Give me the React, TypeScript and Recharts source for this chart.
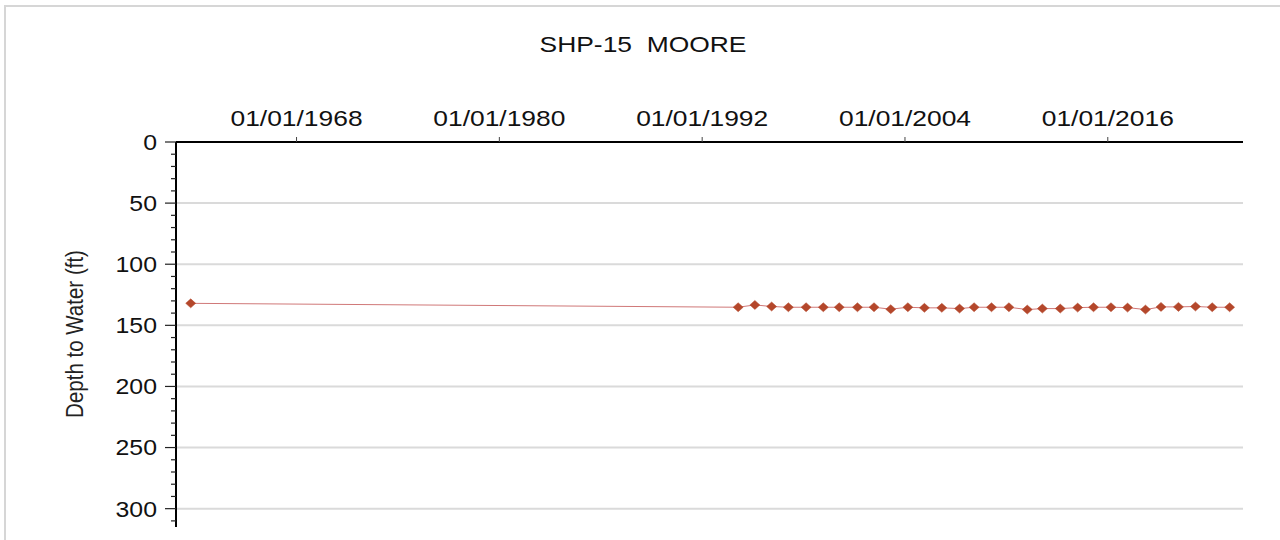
import React from 'react';
import { LineChart, Line, XAxis, YAxis, ReferenceLine } from 'recharts';

const measureDates: string[] = [
  '1961-09-27',
  '1994-02-17', '1995-02-13', '1996-02-10', '1997-02-06', '1998-02-24',
  '1999-03-03', '2000-02-10', '2001-03-10', '2002-03-03', '2003-02-27',
  '2004-03-03', '2005-02-24', '2006-03-07', '2007-03-25', '2008-02-03',
  '2009-02-13', '2010-02-24', '2011-03-28', '2012-02-17', '2013-03-10',
  '2014-03-21', '2015-02-27', '2016-03-10', '2017-03-03', '2018-03-25',
  '2019-02-24', '2020-03-07', '2021-03-10', '2022-03-07', '2023-03-18',
];

const depthToWater: number[] = [
  132.0,
  135.2, 133.3, 134.6, 135.2, 135.2,
  135.2, 135.2, 135.2, 135.2, 136.8,
  135.2, 135.7, 135.7, 136.3, 135.2,
  135.2, 135.2, 137.1, 136.3, 136.3,
  135.5, 135.2, 135.2, 135.5, 137.1,
  134.9, 134.9, 134.6, 135.2, 135.2,
];

const xTickYears: number[] = [1968, 1980, 1992, 2004, 2016];
const yTickValues: number[] = [0, 10, 20, 30, 40, 50, 60, 70, 80, 90, 100, 110, 120, 130, 140, 150, 160, 170, 180, 190, 200, 210, 220, 230, 240, 250, 260, 270, 280, 290, 300, 310];
const gridValues: number[] = [50, 100, 150, 200, 250, 300];
const xDomainStart = '1960-11-13';
const xDomainEnd = '2024-01-01';
const yDomain: [number, number] = [0, 315];

const title = 'SHP-15\u00a0\u00a0MOORE';
const yLabel = 'Depth to Water (ft)';

const toTs = (s: string) => {
  const [y, m, d] = s.split('-').map(Number);
  return Date.UTC(y, m - 1, d);
};

const data = measureDates.map((d, i) => ({ t: toTs(d), depth: depthToWater[i] }));
const xTicks = xTickYears.map((y) => Date.UTC(y, 0, 1));

const FONT = '"Liberation Sans", Arial, Helvetica, sans-serif';

const fmtDate = (ts: number) => {
  const d = new Date(ts);
  const mm = String(d.getUTCMonth() + 1).padStart(2, '0');
  const dd = String(d.getUTCDate()).padStart(2, '0');
  return `${mm}/${dd}/${d.getUTCFullYear()}`;
};

const XTick = (props: any) => {
  const { x, y, payload } = props;
  return (
    <g transform={`translate(${x},${y}) scale(1.2,1)`}>
      <text x={0} y={0} textAnchor="middle" fontFamily={FONT} fontSize={22} fill="#111">
        {fmtDate(payload.value)}
      </text>
    </g>
  );
};

const YTick = (props: any) => {
  const { x, y, payload } = props;
  const v = payload.value as number;
  const major = v % 50 === 0;
  return (
    <g>
      <line x1={x - (major ? 11 : 5)} x2={x} y1={y} y2={y} stroke="#222" strokeWidth={1.2} />
      {major && (
        <g transform={`translate(${x - 19},${y}) scale(1.13,1)`}>
          <text x={0} y={0} dy="0.36em" textAnchor="end" fontFamily={FONT} fontSize={22} fill="#111">
            {v}
          </text>
        </g>
      )}
    </g>
  );
};

const Diamond = (props: any) => {
  const { cx, cy } = props;
  if (cx == null || cy == null) return null;
  const rx = 5;
  const ry = 4.5;
  return (
    <polygon
      points={`${cx},${cy - ry} ${cx + rx},${cy} ${cx},${cy + ry} ${cx - rx},${cy}`}
      fill="#b4472b"
      stroke="#b4472b"
      strokeWidth={0.5}
    />
  );
};

export default function App() {
  return (
    <div style={{ position: 'absolute', left: 0, top: 0, width: 1280, height: 540, background: '#fff', overflow: 'hidden' }}>
      <div style={{ position: 'absolute', left: 4, top: 5, width: 1276, height: 2, background: '#d6d6d6' }} />
      <div style={{ position: 'absolute', left: 4, top: 5, width: 2, height: 535, background: '#d6d6d6' }} />
      <div
        style={{
          position: 'absolute',
          left: 0,
          width: 1286,
          top: 32,
          textAlign: 'center',
          fontFamily: FONT,
          fontSize: 22,
          color: '#111',
          whiteSpace: 'pre',
          transform: 'scaleX(1.2)',
          transformOrigin: '643px 0',
        }}
      >
        {title}
      </div>
      <div
        style={{
          position: 'absolute',
          left: 75,
          top: 334,
          transform: 'translate(-50%, -50%) rotate(-90deg) scaleY(1.15)',
          fontFamily: FONT,
          fontSize: 20.5,
          color: '#222',
          whiteSpace: 'nowrap',
        }}
      >
        {yLabel}
      </div>
      <div style={{ position: 'absolute', left: 0, top: 0 }}>
        <LineChart width={1280} height={540} data={data} margin={{ top: 102, right: 37, bottom: 13, left: 0 }}>
          <XAxis
            dataKey="t"
            type="number"
            scale="time"
            orientation="top"
            height={40}
            domain={[toTs(xDomainStart), toTs(xDomainEnd)]}
            ticks={xTicks}
            tick={<XTick />}
            tickSize={5}
            tickMargin={11}
            tickLine={{ stroke: '#444', strokeWidth: 1 }}
            axisLine={{ stroke: '#000', strokeWidth: 2 }}
            allowDataOverflow
            interval={0}
          />
          <YAxis
            dataKey="depth"
            type="number"
            reversed
            width={176}
            domain={yDomain}
            ticks={yTickValues}
            tick={<YTick />}
            tickLine={false}
            tickSize={0}
            tickMargin={0}
            axisLine={{ stroke: '#000', strokeWidth: 2 }}
            allowDataOverflow
            interval={0}
          />
          {gridValues.map((g) => (
            <ReferenceLine key={g} y={g} stroke="#dadada" strokeWidth={2} ifOverflow="extendDomain" />
          ))}
          <Line
            dataKey="depth"
            type="linear"
            stroke="#d07878"
            strokeWidth={1}
            dot={<Diamond />}
            activeDot={false}
            isAnimationActive={false}
          />
        </LineChart>
      </div>
    </div>
  );
}
